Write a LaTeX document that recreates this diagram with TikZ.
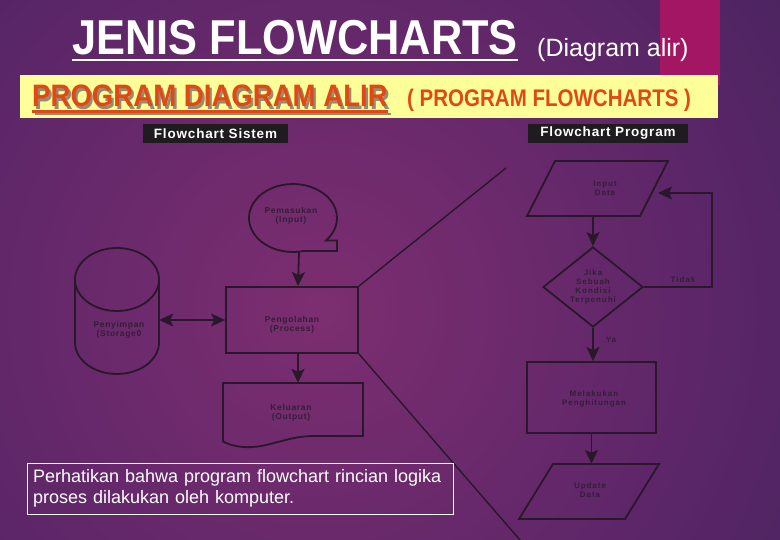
\documentclass[tikz,border=0pt]{standalone}
\usepackage{fontspec}
\setmainfont{Liberation Sans}
\newfontfamily\lsmall[LetterSpace=8]{Liberation Sans}
\newfontfamily\lwide[LetterSpace=12]{Liberation Sans}
\newfontfamily\lhead[LetterSpace=6]{Liberation Sans}
\usetikzlibrary{arrows.meta,shapes.geometric,calc}
\definecolor{bgin}{RGB}{124,46,112}
\definecolor{bgmid}{RGB}{92,38,104}
\definecolor{bgout}{RGB}{38,30,78}
\definecolor{ink}{RGB}{40,24,42}
\definecolor{labelc}{RGB}{52,30,58}
\definecolor{magbar}{RGB}{163,22,100}
\definecolor{yel}{RGB}{255,255,153}
\definecolor{orng}{RGB}{226,72,22}
\definecolor{hdbg}{RGB}{30,28,30}
\definecolor{shadowc}{RGB}{150,140,110}
\pgfdeclareradialshading{bgshade}{\pgfpoint{0bp}{0bp}}{color(0bp)=(bgin); color(10bp)=(bgmid); color(26bp)=(bgout); color(50bp)=(bgout)}
\newcommand{\shadowtext}[1]{\makebox[0pt][l]{\hspace{2.5pt}\raisebox{-2.5pt}{\color{shadowc}#1}}\color{orng}#1}
\tikzset{
  shp/.style={draw=ink, line width=1.8pt},
  lbl/.style={align=center, font=\lsmall\bfseries\fontsize{8.5}{9.5}\selectfont, text=labelc, inner sep=0pt},
  arr/.style={draw=ink, line width=1.8pt, -{Stealth[length=14pt,width=13pt,inset=3pt]}},
  arrb/.style={draw=ink, line width=1.8pt, {Stealth[length=14pt,width=13pt,inset=3pt]}-{Stealth[length=14pt,width=13pt,inset=3pt]}},
  hdr/.style={fill=hdbg, text=white, font=\lhead\bfseries\fontsize{13.5}{15}\selectfont, inner sep=0pt, minimum height=19pt},
  zoomline/.style={draw=ink, line width=1.4pt},
  boxnode/.style={inner sep=0pt},
}
\begin{document}
\begin{tikzpicture}[x=1pt,y=-1pt]
\useasboundingbox (0,0) rectangle (780,540);
\fill[bgout] (0,0) rectangle (780,540);
\begin{scope}
\clip (0,0) rectangle (780,540);
\shade[shading=bgshade] (320,310) circle (960pt);
\end{scope}
% top decorations
\fill[magbar] (660,0) rectangle (720,85);
\fill[yel] (20,75) rectangle (718,118);
% title
\node[anchor=base west, text=white, font=\bfseries\fontsize{49}{53}\selectfont, inner sep=0pt] (title) at (72,55) {\scalebox{0.885}[1]{JENIS FLOWCHARTS}};
\draw[white, line width=2.5pt] ($(title.base west)+(0,5)$) -- ($(title.base east)+(0,5)$);
\node[anchor=base west, text=white, font=\fontsize{25}{28}\selectfont, inner sep=0pt] (sub) at (537,57) {(Diagram alir)};
% subtitle band
\draw[shadowc, line width=2.2pt] (34.5,114) -- (390.5,114);
\node[anchor=base west, font=\bfseries\fontsize{31}{34}\selectfont, inner sep=0pt] (pda) at (32,107) {\scalebox{0.89}[1]{\shadowtext{PROGRAM DIAGRAM ALIR}}};
\draw[orng, line width=2.2pt] ($(pda.base west)+(0,4.5)$) -- ($(pda.base east)+(0,4.5)$);
\node[anchor=base west, text=orng, font=\bfseries\fontsize{24}{28}\selectfont, inner sep=0pt] (pfc) at (407,107) {\scalebox{0.855}[1]{( PROGRAM FLOWCHARTS )}};
% headers
\node[hdr, minimum width=145pt] (hs) at (215.5,133.5) {Flowchart Sistem};
\node[hdr, minimum width=160pt] (hp) at (608,133.5) {Flowchart Program};
% ---------- Flowchart Sistem ----------
\draw[shp] (303.64,251) arc[start angle=76, end angle=401.4, x radius=44, y radius=34] -- (337,240.5) -- (337,251) -- cycle;
\node[boxnode, minimum width=88pt, minimum height=67pt] (inp) at (293,218.5) {};
\node[lbl] (inplbl) at (291,216) {Pemasukan\\(Input)};
\node[shp, boxnode, minimum width=132pt, minimum height=66pt] (proc) at (292,320) {};
\node[lbl] (proclbl) at (292,325) {Pengolahan\\(Process)};
% cylinder
\draw[shp] (117,279.5) ellipse [x radius=42, y radius=31.5];
\draw[shp] (75,279.5) -- (75,342.5) arc[start angle=180, end angle=0, x radius=42, y radius=31.5] -- (159,279.5);
\node[boxnode, minimum width=84pt, minimum height=126pt] (stor) at (117,311) {};
\node[lbl] (storlbl) at (119,330) {Penyimpan\\(Storage0};
% output document
\draw[shp] (223,383) -- (363,383) -- (363,436) -- (315,436) .. controls (298,436) and (290,439) .. (270,444) .. controls (252,449) and (235,448) .. (223,441.5) -- cycle;
\node[boxnode, minimum width=140pt, minimum height=53pt] (outp) at (293,409.5) {};
\node[lbl] (outlbl) at (291,413) {Keluaran\\(Output)};
% connectors
\draw[arr] ([xshift=6pt]inp.south) -- ([xshift=6pt]proc.north);
\draw[arr] ([xshift=6pt]proc.south) -- ([xshift=5pt]outp.north);
\draw[arrb] (stor.east |- proc.west) -- (proc.west);
% zoom lines
\coordinate (z1) at (506,168);
\coordinate (z2) at (520,540);
\draw[zoomline] (proc.north east) -- (z1);
\draw[zoomline] (proc.south east) -- (z2);
% note box
\node[draw=white, line width=0.8pt, text=white, align=left, font=\fontsize{18}{21}\selectfont, text width=414pt, inner xsep=6pt, inner ysep=0pt, minimum height=51pt] (note) at (240,488.5) {Perhatikan bahwa program flowchart rincian logika\\proses dilakukan oleh komputer.};
% ---------- Flowchart Program ----------
\draw[shp] (555,161) -- (668,161) -- (640,216) -- (527,216) -- cycle;
\node[boxnode, minimum width=113pt, minimum height=55pt] (ind) at (597.5,188.5) {};
\node[lbl, font=\lwide\bfseries\fontsize{8}{9}\selectfont] (indlbl) at (605,188) {Input\\Data};
\node[shp, diamond, boxnode, minimum width=100pt, minimum height=80pt] (dia) at (593,287) {};
\node[lbl, font=\lwide\bfseries\fontsize{8}{9}\selectfont] (dialbl) at (593,287) {Jika\\Sebuah\\Kondisi\\Terpenuhi};
\node[shp, boxnode, minimum width=129pt, minimum height=71pt] (calc) at (591.5,397.5) {};
\node[lbl, font=\lwide\bfseries\fontsize{8}{9}\selectfont] (calclbl) at (594,399) {Melakukan\\Penghitungan};
\draw[shp] (553,464) -- (659,464) -- (625,519) -- (519,519) -- cycle;
\node[boxnode, minimum width=140pt, minimum height=55pt] (upd) at (589,491.5) {};
\node[lbl, font=\lwide\bfseries\fontsize{8}{9}\selectfont] (updlbl) at (590,490) {Update\\Data};
\draw[arr] (ind.south -| dia.north) -- (dia.north);
\coordinate (tk1) at (712,287);
\coordinate (tk2) at (712,193);
\coordinate (tkend) at (658,193);
\draw[arr] (dia.east) -- (tk1) -- (tk2) -- (tkend);
\node[lbl, font=\lwide\bfseries\fontsize{8}{9}\selectfont] (tidak) at (683,280) {Tidak};
\draw[arr] (dia.south) -- (dia.south |- calc.north);
\node[lbl, font=\lwide\bfseries\fontsize{8}{9}\selectfont] (ya) at (611,340) {Ya};
\draw[arr] (calc.south) -- (calc.south |- upd.north);
\end{tikzpicture}
\end{document}
